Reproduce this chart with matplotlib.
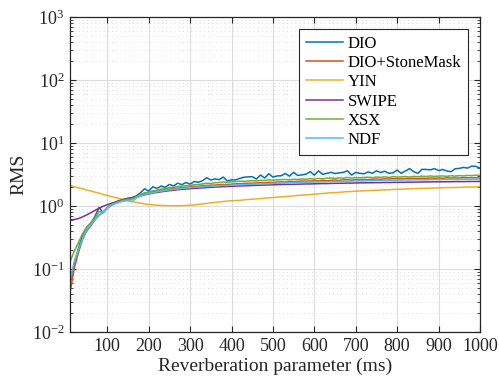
import numpy as np
import matplotlib
matplotlib.use('Agg')
import matplotlib.pyplot as plt
import matplotlib.ticker as ticker

plt.rcParams['font.family'] = ['Liberation Serif', 'DejaVu Serif']
plt.rcParams['mathtext.fontset'] = 'stix'

# reverberation parameter (ms)
reverb_ms = np.arange(10, 1010, 10)

dio = [0.06, 0.12, 0.21, 0.34, 0.46, 0.53, 0.68, 0.95, 0.78, 0.93,
       1.07, 1.14, 1.22, 1.28, 1.33, 1.36, 1.45, 1.62, 1.88, 1.72,
       2.02, 1.9, 2.08, 1.98, 2.2, 2.08, 2.3, 2.18, 2.36, 2.22,
       2.45, 2.38, 2.52, 2.82, 2.58, 2.7, 2.62, 2.88, 2.5, 2.6,
       2.6, 2.74, 2.86, 2.9, 2.92, 2.68, 3.1, 2.78, 3.25, 2.88,
       3.0, 3.02, 3.28, 2.98, 3.42, 3.05, 3.12, 3.2, 3.52, 3.08,
       3.62, 3.18, 3.3, 3.42, 3.28, 3.36, 3.42, 3.62, 3.1, 3.42,
       3.3, 3.25, 3.48, 3.3, 3.62, 3.4, 3.56, 3.3, 3.36, 3.72,
       3.3, 3.6, 3.92, 3.5, 3.3, 3.82, 3.8, 3.75, 3.92, 3.65,
       3.8, 3.6, 3.5, 3.9, 3.95, 4.1, 4.0, 4.3, 4.25, 4.0]

dio_sm = [0.042, 0.1, 0.18, 0.29, 0.4, 0.48, 0.6, 0.72, 0.8, 0.92,
          1.03, 1.1, 1.17, 1.22, 1.26, 1.3, 1.38, 1.48, 1.58, 1.62,
          1.68, 1.72, 1.78, 1.8, 1.86, 1.88, 1.92, 1.95, 1.98, 2.0,
          2.05, 2.06, 2.1, 2.12, 2.14, 2.15, 2.18, 2.2, 2.2, 2.22,
          2.25, 2.26, 2.28, 2.3, 2.3, 2.32, 2.35, 2.34, 2.38, 2.36,
          2.4, 2.42, 2.4, 2.45, 2.44, 2.46, 2.5, 2.48, 2.5, 2.52,
          2.5, 2.55, 2.52, 2.56, 2.58, 2.55, 2.6, 2.62, 2.58, 2.62,
          2.6, 2.64, 2.62, 2.66, 2.68, 2.65, 2.7, 2.68, 2.72, 2.7,
          2.7, 2.74, 2.72, 2.75, 2.73, 2.76, 2.74, 2.78, 2.76, 2.78,
          2.76, 2.8, 2.78, 2.8, 2.78, 2.82, 2.8, 2.82, 2.8, 2.78]

yin = [2.1, 2.02, 1.95, 1.88, 1.8, 1.73, 1.66, 1.6, 1.53, 1.47,
       1.41, 1.36, 1.31, 1.26, 1.21, 1.17, 1.14, 1.11, 1.08, 1.06,
       1.04, 1.03, 1.02, 1.015, 1.01, 1.01, 1.01, 1.015, 1.02, 1.03,
       1.04, 1.06, 1.08, 1.1, 1.12, 1.14, 1.16, 1.18, 1.2, 1.21,
       1.22, 1.23, 1.25, 1.27, 1.28, 1.3, 1.31, 1.33, 1.35, 1.36,
       1.38, 1.4, 1.41, 1.43, 1.45, 1.47, 1.49, 1.5, 1.52, 1.54,
       1.56, 1.58, 1.6, 1.62, 1.63, 1.65, 1.67, 1.69, 1.7, 1.72,
       1.73, 1.74, 1.76, 1.77, 1.78, 1.79, 1.8, 1.81, 1.83, 1.84,
       1.85, 1.86, 1.87, 1.88, 1.89, 1.9, 1.91, 1.92, 1.93, 1.94,
       1.95, 1.96, 1.96, 1.97, 1.98, 1.99, 2.0, 2.0, 2.01, 2.02]

swipe = [0.6, 0.61, 0.63, 0.67, 0.72, 0.78, 0.85, 0.92, 0.99, 1.05,
         1.1, 1.16, 1.22, 1.27, 1.31, 1.36, 1.4, 1.45, 1.5, 1.55,
         1.6, 1.64, 1.68, 1.72, 1.75, 1.78, 1.81, 1.84, 1.86, 1.88,
         1.9, 1.92, 1.94, 1.96, 1.98, 2.0, 2.01, 2.03, 2.04, 2.05,
         2.07, 2.08, 2.09, 2.1, 2.12, 2.13, 2.14, 2.15, 2.16, 2.17,
         2.18, 2.19, 2.2, 2.2, 2.21, 2.22, 2.23, 2.24, 2.24, 2.25,
         2.26, 2.27, 2.27, 2.28, 2.29, 2.29, 2.3, 2.31, 2.31, 2.32,
         2.33, 2.33, 2.34, 2.34, 2.35, 2.35, 2.36, 2.36, 2.37, 2.37,
         2.38, 2.38, 2.39, 2.39, 2.4, 2.4, 2.41, 2.41, 2.42, 2.42,
         2.42, 2.43, 2.43, 2.44, 2.44, 2.44, 2.45, 2.45, 2.45, 2.46]

xsx = [0.13, 0.19, 0.26, 0.36, 0.46, 0.54, 0.64, 0.82, 0.8, 0.95,
       1.05, 1.12, 1.18, 1.24, 1.28, 1.3, 1.4, 1.52, 1.62, 1.66,
       1.74, 1.78, 1.86, 1.88, 1.96, 1.98, 2.04, 2.06, 2.1, 2.12,
       2.18, 2.2, 2.24, 2.3, 2.28, 2.34, 2.36, 2.4, 2.38, 2.42,
       2.44, 2.48, 2.46, 2.5, 2.52, 2.5, 2.56, 2.54, 2.6, 2.56,
       2.6, 2.62, 2.64, 2.6, 2.66, 2.64, 2.7, 2.66, 2.72, 2.68,
       2.74, 2.7, 2.76, 2.78, 2.74, 2.8, 2.76, 2.84, 2.78, 2.82,
       2.8, 2.84, 2.86, 2.82, 2.88, 2.85, 2.9, 2.84, 2.92, 2.88,
       2.9, 2.94, 2.88, 2.96, 2.92, 2.98, 2.94, 3.0, 2.95, 2.98,
       3.0, 2.96, 3.02, 2.98, 3.04, 3.0, 3.06, 3.04, 3.08, 3.05]

ndf = [0.065, 0.13, 0.2, 0.3, 0.42, 0.5, 0.6, 0.7, 0.8, 0.92,
       1.04, 1.1, 1.15, 1.2, 1.22, 1.18, 1.34, 1.44, 1.52, 1.58,
       1.62, 1.68, 1.72, 1.76, 1.8, 1.84, 1.86, 1.9, 1.92, 1.95,
       1.98, 2.0, 2.02, 2.04, 2.06, 2.08, 2.1, 2.12, 2.12, 2.14,
       2.16, 2.18, 2.18, 2.2, 2.22, 2.22, 2.24, 2.26, 2.26, 2.28,
       2.3, 2.3, 2.32, 2.34, 2.34, 2.36, 2.36, 2.38, 2.38, 2.4,
       2.4, 2.42, 2.42, 2.44, 2.44, 2.46, 2.46, 2.48, 2.48, 2.5,
       2.5, 2.5, 2.52, 2.52, 2.54, 2.54, 2.54, 2.56, 2.56, 2.56,
       2.58, 2.58, 2.58, 2.6, 2.6, 2.6, 2.6, 2.62, 2.62, 2.62,
       2.62, 2.64, 2.64, 2.64, 2.64, 2.66, 2.66, 2.66, 2.66, 2.68]

labels = ['DIO', 'DIO+StoneMask', 'YIN', 'SWIPE', 'XSX', 'NDF']
# matlab default line colours
colors = ['#0072BD', '#D95319', '#EDB120', '#7E2F8E', '#77AC30', '#4DBEEE']
series = [dio, dio_sm, yin, swipe, xsx, ndf]

fig = plt.figure(figsize=(4.99, 3.85), dpi=100)
ax = fig.add_axes([0.1403, 0.1377, 0.8216, 0.8181])

for vals, lab, col in zip(series, labels, colors):
    ax.plot(reverb_ms, vals, color=col, lw=1.1, label=lab)

ax.set_yscale('log')
ax.set_ylim(1e-2, 1e3)
ax.set_xlim(10, 1000)
ax.set_xticks(np.arange(100, 1001, 100))

ax.grid(True, which='major', color='#dcdcdc', lw=0.8, ls='-')
ax.yaxis.grid(True, which='minor', color='#d2d2d2', lw=0.6, ls=(0, (1, 4)))
ax.set_axisbelow(True)

ax.tick_params(which='both', direction='in', top=True, right=True,
               labelsize=13, colors='#262626', pad=4)
ax.tick_params(which='major', length=4, width=0.8)
ax.tick_params(which='minor', length=2, width=0.6)
ax.tick_params(axis='x', which='minor', top=False, bottom=False)
for sp in ax.spines.values():
    sp.set_color('#262626')
    sp.set_linewidth(0.9)

ax.set_xlabel('Reverberation parameter (ms)', fontsize=14, color='#262626', labelpad=2)
ax.set_ylabel('RMS', fontsize=14, color='#262626', labelpad=3)

leg = ax.legend(loc='upper right', bbox_to_anchor=(0.971, 0.962), borderaxespad=0,
                fontsize=12, fancybox=False, framealpha=1, edgecolor='#262626',
                handlelength=2.2, labelspacing=0.2, handletextpad=0.3,
                borderpad=0.4)
leg.get_frame().set_linewidth(0.8)

fig.savefig('out.png', dpi=100)
